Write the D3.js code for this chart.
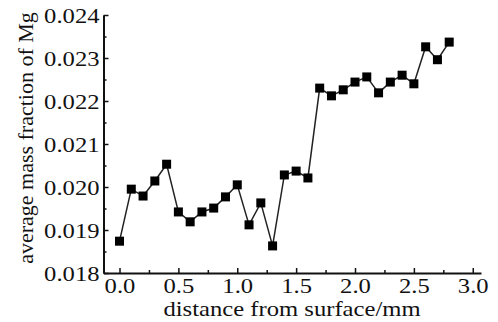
<!DOCTYPE html>
<html>
<head>
<meta charset="utf-8">
<script src="https://cdn.jsdelivr.net/npm/d3@7"></script>
<style>
  body { margin: 0; background: #fff; }
  svg { display: block; }
  text { font-family: "Liberation Serif", "Times New Roman", serif; fill: #111; }
</style>
</head>
<body>
<svg></svg>
<script>
const width = 498,
    height = 322;

// distance from surface (mm)
const distance = [0.0, 0.1, 0.2, 0.3, 0.4, 0.5, 0.6, 0.7, 0.8, 0.9,
    1.0, 1.1, 1.2, 1.3, 1.4, 1.5, 1.6, 1.7, 1.8, 1.9,
    2.0, 2.1, 2.2, 2.3, 2.4, 2.5, 2.6, 2.7, 2.8];
// average mass fraction of Mg
const massFraction = [0.01874, 0.01995, 0.01979, 0.02014, 0.02053, 0.01942, 0.01919, 0.01942, 0.01951, 0.01977,
    0.02005, 0.01912, 0.01963, 0.01863, 0.02028, 0.02037, 0.02021, 0.02230, 0.02212, 0.02226,
    0.02244, 0.02256, 0.02219, 0.02244, 0.02260, 0.02240, 0.02326, 0.02296, 0.02337];

const xTicks = [0, 0.5, 1.0, 1.5, 2.0, 2.5, 3.0];
const xMinor = [0.25, 0.75, 1.25, 1.75, 2.25, 2.75];
const yTicks = [0.018, 0.019, 0.020, 0.021, 0.022, 0.023, 0.024];
const yMinor = [0.0185, 0.0195, 0.0205, 0.0215, 0.0225, 0.0235];

const svg = d3.select("svg").attr("width", width).attr("height", height);

const x = d3.scaleLinear().domain([-0.136, 3.07]).range([103.5, 481]);
const y = d3.scaleLinear().domain([0.018, 0.024]).range([273, 15]);

const data = distance.map((d, i) => ({x: d, y: massFraction[i]}));

// the source image is a bit stretched sideways, text too
const stretch = 1.12;

// x axis
const gx = svg.append("g").attr("transform", `translate(0,${y.range()[0]})`);
gx.call(d3.axisBottom(x).tickValues(xTicks).tickFormat(d3.format(".1f"))
    .tickSizeInner(-5).tickSizeOuter(0).tickPadding(4));
svg.append("g").attr("transform", `translate(0,${y.range()[0]})`)
    .call(d3.axisBottom(x).tickValues(xMinor).tickFormat("").tickSizeInner(-3).tickSizeOuter(0))
    .select(".domain").remove();

// y axis
const gy = svg.append("g").attr("transform", `translate(${x.range()[0]},0)`);
gy.call(d3.axisLeft(y).tickValues(yTicks).tickFormat(d3.format(".3f"))
    .tickSizeInner(-5).tickSizeOuter(0).tickPadding(4));
svg.append("g").attr("transform", `translate(${x.range()[0]},0)`)
    .call(d3.axisLeft(y).tickValues(yMinor).tickFormat("").tickSizeInner(-3).tickSizeOuter(0))
    .select(".domain").remove();

svg.selectAll(".domain").attr("stroke", "#111").attr("stroke-width", 2);
svg.selectAll(".tick line").attr("stroke", "#111").attr("stroke-width", 1.5);
svg.selectAll(".tick text").attr("font-size", 22).attr("fill", "#111");
gx.selectAll(".tick text").attr("transform", `scale(${stretch},1)`);
gy.selectAll(".tick text").attr("x", -4 / stretch).attr("transform", `scale(${stretch},1)`);

// axis titles
svg.append("text")
    .attr("transform", `translate(292,316) scale(${stretch},1)`)
    .attr("font-size", 22)
    .style("text-anchor", "middle")
    .text("distance from surface/mm");

svg.append("text")
    .attr("transform", "rotate(-90)")
    .attr("x", -138).attr("y", 33)
    .attr("font-size", 22)
    .style("text-anchor", "middle")
    .text("average mass fraction of Mg");

// line + markers
const line = d3.line().x(d => x(d.x)).y(d => y(d.y));
svg.append("path")
    .datum(data)
    .attr("d", line)
    .attr("fill", "none")
    .attr("stroke", "#222")
    .attr("stroke-width", 1.5);

const s = 9;
svg.selectAll("rect.pt")
    .data(data)
    .enter()
    .append("rect")
    .attr("class", "pt")
    .attr("x", d => x(d.x) - s / 2)
    .attr("y", d => y(d.y) - s / 2)
    .attr("width", s)
    .attr("height", s)
    .attr("fill", "#000");
</script>
</body>
</html>
